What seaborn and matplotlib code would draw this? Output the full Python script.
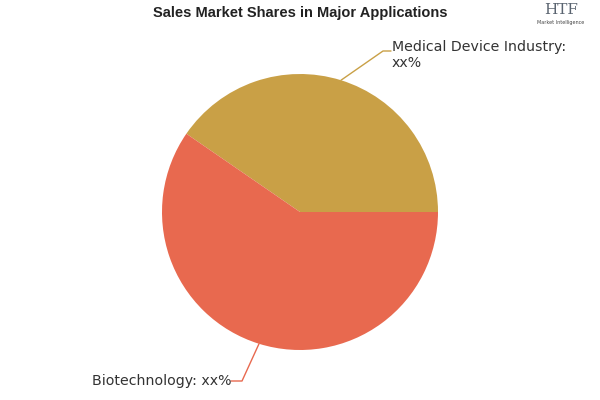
import numpy as np
import matplotlib
matplotlib.use("Agg")
import matplotlib.pyplot as plt
import seaborn as sns

sns.set_theme(style="white")
plt.rcParams["font.family"] = ["DejaVu Sans"]

# data
labels = ["Medical Device Industry", "Biotechnology"]
shares = [40.4, 59.6]
value_text = ["xx%", "xx%"]
colors = ["#C9A046", "#E8694F"]
title = "Sales Market Shares in Major Applications"

fig = plt.figure(figsize=(6, 4), dpi=100)
ax = fig.add_axes([0, 0, 1, 1])

center = (300, 188)
radius = 138
wedges, _ = ax.pie(shares, colors=colors, startangle=0, counterclock=True,
                   radius=radius, center=center, frame=True,
                   wedgeprops=dict(linewidth=0))
ax.set_xlim(0, 600)
ax.set_ylim(0, 400)
ax.set_aspect("equal")
ax.axis("off")

# leader lines + labels
elbows = [(383, 349), (242, 19)]
for w, lab, val, col, (ex, ey) in zip(wedges, labels, value_text, colors, elbows):
    mid = np.deg2rad((w.theta1 + w.theta2) / 2)
    px = center[0] + radius * np.cos(mid)
    py = center[1] + radius * np.sin(mid)
    if ex > center[0]:
        ax.plot([px, ex, ex + 8], [py, ey, ey], color=col, lw=1)
        ax.text(ex + 9, ey - 4, f"{lab}:\n{val}", ha="left", va="center",
                fontsize=10.2, color="#333333", linespacing=1.25)
    else:
        ax.plot([px, ex, ex - 11], [py, ey, ey], color=col, lw=1)
        ax.text(ex - 11, ey, f"{lab}: {val}", ha="right", va="center",
                fontsize=10.2, color="#333333")

fig.text(0.5, 0.967, title, ha="center", va="center", fontsize=10.5,
         fontweight="bold", family=["Liberation Sans", "DejaVu Sans"],
         color="#222222")

# logo
fig.text(0.935, 0.975, "HTF", ha="center", va="center", fontsize=11,
         family="DejaVu Serif", color="#5a6470")
fig.text(0.935, 0.943, "Market Intelligence", ha="center", va="center",
         fontsize=3.5, color="#444444")

fig.savefig("out.png", dpi=100)
